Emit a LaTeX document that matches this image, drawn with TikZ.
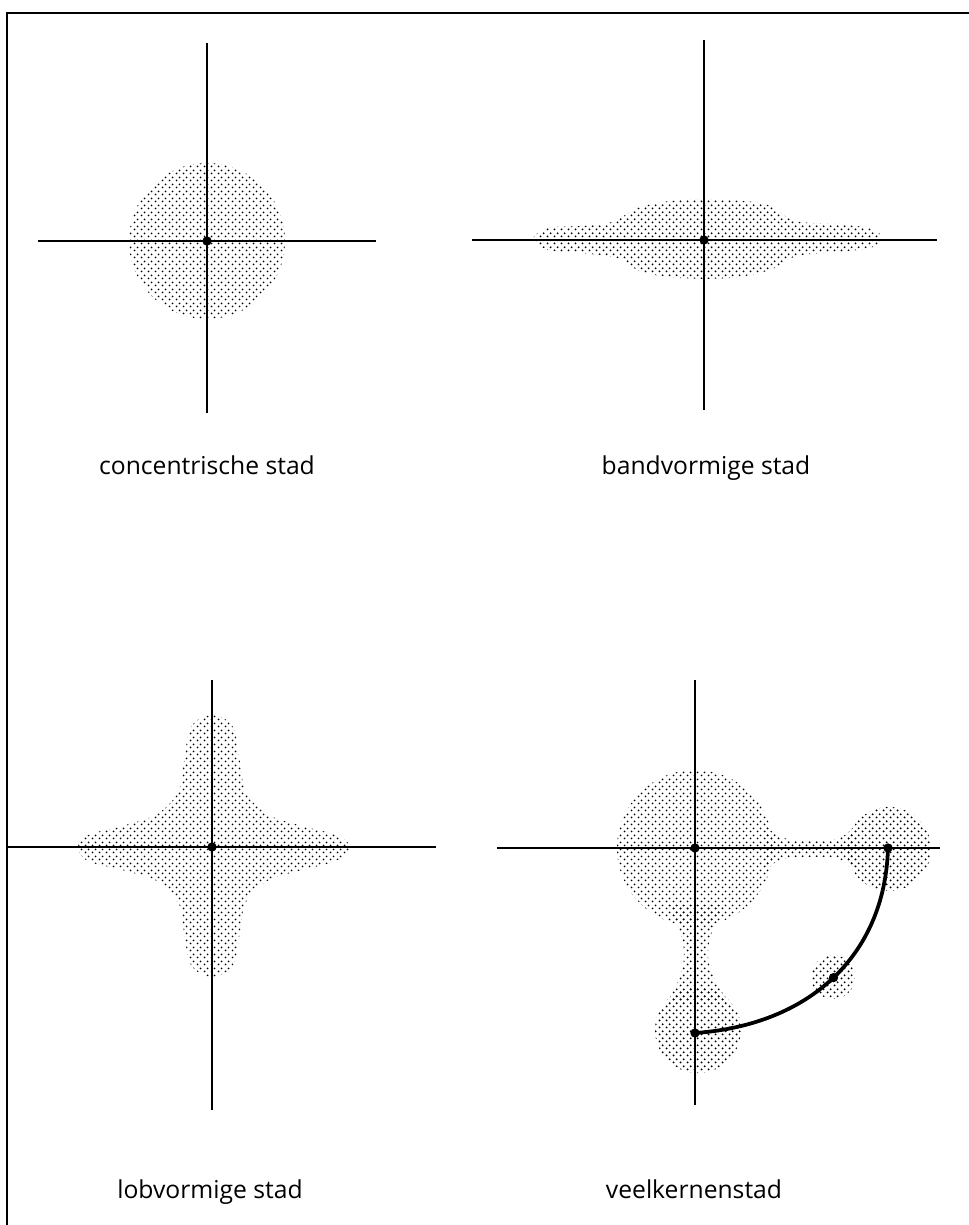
\documentclass[tikz,border=0pt]{standalone}
\usepackage{fontspec}
\setmainfont{Open Sans}
\usetikzlibrary{patterns.meta}
\tikzdeclarepattern{
  name=stipple,
  type=uncolored,
  bounding box={(0pt,0pt) and (5.25pt,5.25pt)},
  tile size={(5.25pt,5.25pt)},
  code={
    \fill (1.3125pt,1.3125pt) circle (0.85pt);
    \fill (3.9375pt,3.9375pt) circle (0.85pt);
  }
}
\tikzset{
  frame/.style={line width=1.5pt},
  axis/.style={line width=1.8pt},
  area/.style={pattern={stipple}, pattern color=black},
  origin/.style={circle, fill=black, inner sep=0pt, minimum size=7pt},
  route/.style={line width=2.8pt},
  caption/.style={font=\fontsize{18.5}{21}\selectfont, anchor=base}
}
\begin{document}
\begin{tikzpicture}[x=0.75pt,y=-0.75pt]
\useasboundingbox (0,0) rectangle (969,1225);
% frame
\coordinate (fbl) at (7,1225);
\coordinate (ftl) at (7,13);
\coordinate (ftr) at (969,13);
\draw[frame] (fbl) -- (ftl) -- (ftr);

% ---------- panel 1: concentrische stad
\fill[area] (207,241) circle (78);
\coordinate (a1t) at (207,43);
\coordinate (a1b) at (207,413);
\coordinate (a1l) at (38,241);
\coordinate (a1r) at (376,241);
\draw[axis] (a1t) -- (a1b);
\draw[axis] (a1l) -- (a1r);
\node[origin] (o1) at (207,241) {};
\node[caption] (c1) at (207,474) {concentrische stad};

% ---------- panel 2: bandvormige stad
\fill[area] plot[smooth cycle, tension=0.55] coordinates {
  (533,239) (548,228) (580,226) (612,222) (640,207) (680,200) (730,200)
  (768,205) (795,221) (840,224) (872,229) (881,237) (873,247) (840,252)
  (797,256) (770,270) (730,278) (680,278) (642,272) (617,258) (580,253)
  (548,250)};
\coordinate (a2t) at (704,40);
\coordinate (a2b) at (704,410);
\coordinate (a2l) at (472,240);
\coordinate (a2r) at (937,240);
\draw[axis] (a2t) -- (a2b);
\draw[axis] (a2l) -- (a2r);
\node[origin] (o2) at (704,240) {};
\node[caption] (c2) at (706,474) {bandvormige stad};

% ---------- panel 3: lobvormige stad
\begin{scope}[shift={(212,847)}]
\fill[area] plot[smooth cycle, tension=0.6] coordinates {
  (0,-132) (21,-120) (28,-85) (34,-55) (55,-33) (90,-21) (124,-12) (138,0)
  (124,14) (90,23) (55,34) (34,55) (28,85) (21,118) (0,130)
  (-21,118) (-28,85) (-34,55) (-55,34) (-90,23) (-124,14) (-134,0)
  (-124,-12) (-90,-21) (-55,-33) (-34,-55) (-28,-85) (-21,-120)};
\end{scope}
\coordinate (a3t) at (212,680);
\coordinate (a3b) at (212,1110);
\coordinate (a3l) at (7,847);
\coordinate (a3r) at (436,847);
\draw[axis] (a3t) -- (a3b);
\draw[axis] (a3l) -- (a3r);
\node[origin] (o3) at (212,847) {};
\node[caption] (c3) at (210,1198) {lobvormige stad};

% ---------- panel 4: veelkernenstad
\fill[area] (695,848) circle (78);
\fill[area] (889,849) circle (42);
\fill[area] (698,1030) circle (43);
\fill[area] (833,977) circle (22);
\fill[area] (765,825) .. controls (775,836) and (785,840) .. (797,840)
  -- (828,840) .. controls (840,840) and (848,834) .. (855,825)
  -- (855,872) .. controls (848,863) and (840,857) .. (828,857)
  -- (797,857) .. controls (785,857) and (775,861) .. (765,870) -- cycle;
\fill[area] (668,905) .. controls (680,928) and (684,940) .. (684,955)
  .. controls (684,972) and (676,986) .. (667,1003)
  -- (729,1003) .. controls (718,986) and (708,970) .. (708,955)
  .. controls (708,940) and (712,928) .. (724,905) -- cycle;
\coordinate (a4t) at (695,680);
\coordinate (a4b) at (695,1105);
\coordinate (a4l) at (497,848);
\coordinate (a4r) at (940,848);
\draw[axis] (a4t) -- (a4b);
\draw[axis] (a4l) -- (a4r);
\node[origin] (o4) at (695,848) {};
\node[origin] (k1) at (888,848) {};
\node[origin] (k3) at (695,1033) {};
\draw[route] (k3.center) .. controls (810,1025) and (885,955) .. (k1.center)
  node[origin, pos=0.5] (k2) {};
\node[caption] (c4) at (694,1198) {veelkernenstad};
\end{tikzpicture}
\end{document}
